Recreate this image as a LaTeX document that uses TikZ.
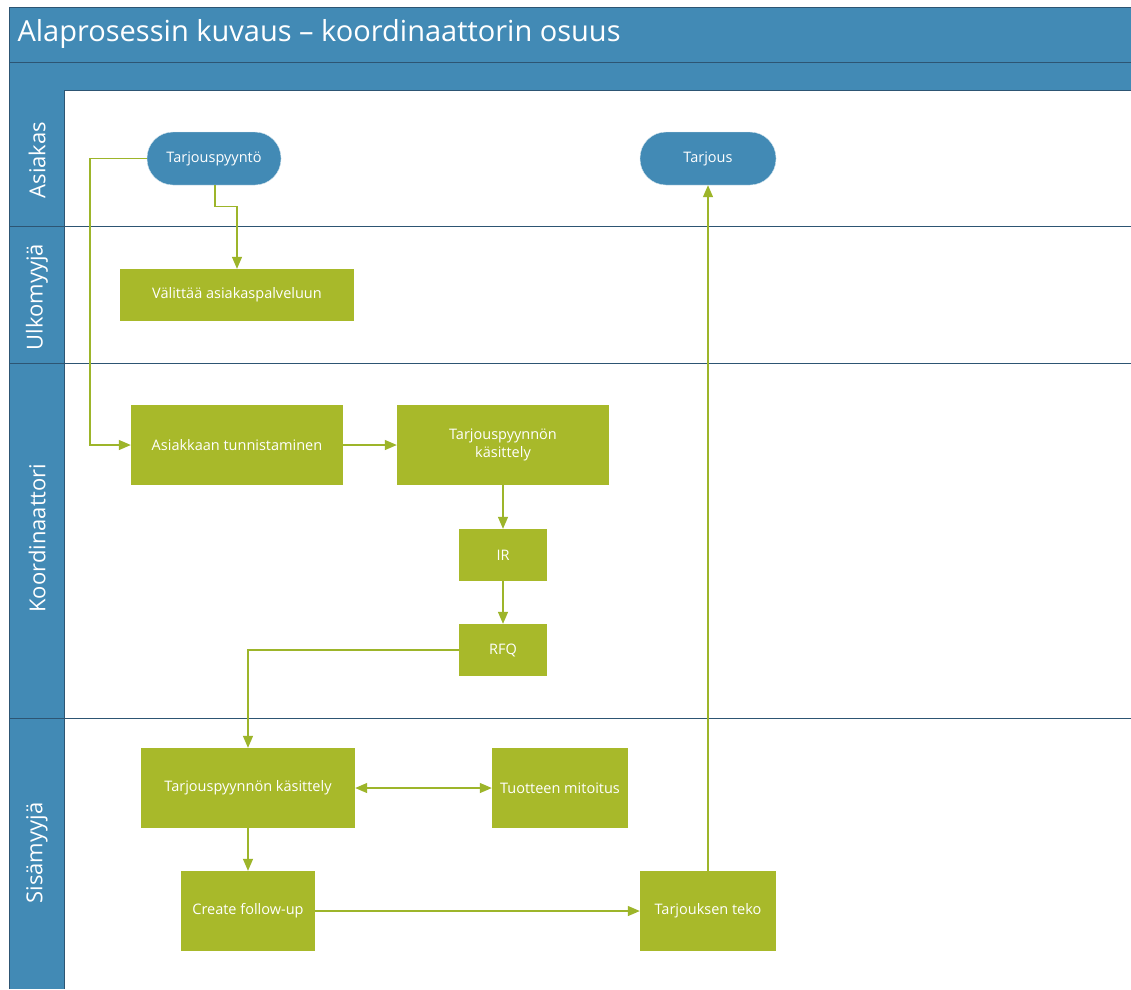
\documentclass[tikz,border=0pt]{standalone}
\usepackage{fontspec}
\setmainfont{Open Sans}
\usetikzlibrary{arrows.meta}
\definecolor{hdrblue}{HTML}{428AB5}
\definecolor{edgeblue}{HTML}{2D5573}
\definecolor{actgreen}{HTML}{A8B92A}
\definecolor{flowgreen}{HTML}{9DB52A}
\tikzset{
  act/.style={fill=actgreen, draw=none, text=white, align=center, font=\fontsize{14.5}{18}\selectfont, inner sep=0pt},
  term/.style={fill=hdrblue, draw=white!80!hdrblue, rounded corners=26pt, text=white, font=\fontsize{14.5}{18}\selectfont, inner sep=0pt},
  flow/.style={draw=flowgreen, line width=1.2pt, -{Triangle[length=12pt,width=10pt]}},
  lanesep/.style={draw=edgeblue, line width=1pt},
  lanelabel/.style={text=white, rotate=90, font=\fontsize{22}{26}\selectfont}
}
\begin{document}
\begin{tikzpicture}[x=1pt,y=-1pt]
\useasboundingbox (0,0) rectangle (1131,989);
\fill[white] (0,0) rectangle (1131,989);
% header bands
\fill[hdrblue] (9,7) rectangle (1131,90);
\draw[lanesep] (9,62) -- (1131,62);
\draw[lanesep] (9,90) -- (1131,90);
\node[anchor=west, text=white, font=\fontsize{29}{34}\selectfont] (title) at (14,34) {Alaprosessin kuvaus – koordinaattorin osuus};
% lane label column
\fill[hdrblue] (9,90) rectangle (64,989);
\draw[lanesep] (9,7) -- (1131,7);
\draw[lanesep] (9,7) -- (9,989);
\draw[lanesep] (64,90) -- (64,989);
\draw[lanesep] (9,226) -- (1131,226);
\draw[lanesep] (9,363) -- (1131,363);
\draw[lanesep] (9,718) -- (1131,718);
\node[lanelabel] (laneA) at (37,160) {Asiakas};
\node[lanelabel] (laneU) at (37,297) {Ulkomyyjä};
\node[lanelabel] (laneK) at (37,538) {Koordinaattori};
\node[lanelabel] (laneS) at (37,853) {Sisämyyjä};
% terminals
\node[term, minimum width=134pt, minimum height=53pt] (req) at (214,158.5) {Tarjouspyyntö};
\node[term, minimum width=136pt, minimum height=53pt] (offer) at (708,158.5) {Tarjous};
% activities
\node[act, minimum width=234pt, minimum height=52pt] (fwd) at (237,295) {Välittää asiakaspalveluun};
\node[act, minimum width=212pt, minimum height=80pt] (ident) at (237,445) {Asiakkaan tunnistaminen};
\node[act, minimum width=212pt, minimum height=80pt] (handleK) at (503,445) {Tarjouspyynnön\\käsittely};
\node[act, minimum width=88pt, minimum height=52pt] (ir) at (503,555) {IR};
\node[act, minimum width=88pt, minimum height=52pt] (rfq) at (503,650) {RFQ};
\node[act, minimum width=214pt, minimum height=80pt] (handleS) at (248,788) {Tarjouspyynnön käsittely};
\node[act, minimum width=136pt, minimum height=80pt] (sizing) at (560,788) {Tuotteen mitoitus};
\node[act, minimum width=134pt, minimum height=80pt] (follow) at (248,911) {Create follow-up};
\node[act, minimum width=136pt, minimum height=80pt] (make) at (708,911) {Tarjouksen teko};
% connectors
\draw[flow] (req.south) ++(1,0) coordinate (reqb) -- ++(0,21) -| (fwd.north);
\draw[flow] (req.west) -| (90,445) -- (ident.west);
\draw[flow] (ident.east) -- (handleK.west);
\draw[flow] (handleK.south) -- (ir.north);
\draw[flow] (ir.south) -- (rfq.north);
\draw[flow] (rfq.west) -| (handleS.north);
\draw[flow, {Triangle[length=12pt,width=10pt]}-{Triangle[length=12pt,width=10pt]}] (handleS.east) -- (sizing.west);
\draw[flow] (handleS.south) -- (follow.north);
\draw[flow] (follow.east) -- (make.west);
\draw[flow] (make.north) -- (offer.south);
\end{tikzpicture}
\end{document}
